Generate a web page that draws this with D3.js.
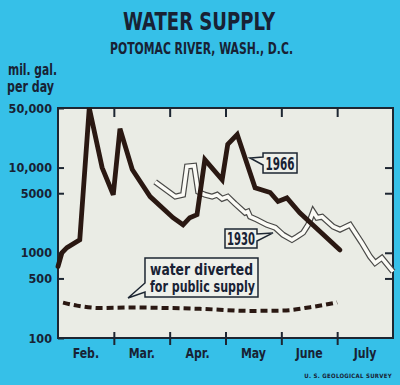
<!DOCTYPE html>
<meta charset="utf-8">
<style>
  body { margin: 0; background: #36c0e8; }
  text { font-family: "DejaVu Sans Condensed", sans-serif; font-weight: bold; fill: #182234; }
</style>
<body>
<script src="https://d3js.org/d3.v7.min.js"></script>
<script>
  // months counted from Feb 1 (0) to Aug 1 (6)
  const monthNames = ["Feb.", "Mar.", "Apr.", "May", "June", "July"];
  const yTicks = [100, 500, 1000, 5000, 10000, 50000];
  const rightTicks = [500, 1000, 5000, 10000];

  // 1966 flow, mil. gal. per day
  const m1966 = [0, 0.07, 0.16, 0.39, 0.56, 0.79, 0.99, 1.11, 1.33, 1.65, 2.06, 2.24, 2.36, 2.49, 2.63, 2.94, 3.04, 3.21, 3.53, 3.80, 3.94, 4.10, 4.33, 5.05];
  const v1966 = [690, 1000, 1150, 1420, 50000, 10000, 4800, 28500, 9500, 4560, 2580, 2130, 2580, 2800, 12400, 7200, 18700, 24400, 5800, 5100, 4000, 4400, 2950, 1080];

  // 1930 flow
  const m1930 = [1.74, 2.10, 2.24, 2.31, 2.44, 2.51, 2.63, 2.76, 2.85, 2.94, 3.04, 3.17, 3.35, 3.40, 3.44, 3.56, 3.74, 3.89, 4.03, 4.19, 4.28, 4.39, 4.48, 4.57, 4.64, 4.73, 4.93, 5.05, 5.23, 5.44, 5.59, 5.68, 5.80, 6.0];
  const v1930 = [6800, 4560, 4800, 10300, 10500, 5200, 4800, 4560, 4800, 4300, 4560, 3770, 2950, 3040, 2650, 2450, 2130, 1970, 1630, 1420, 1540, 1720, 2130, 3040, 2580, 2650, 2020, 1870, 2130, 1310, 900, 760, 870, 600];

  // water diverted for public supply
  const mDiv = [0.09, 0.34, 0.75, 1.34, 1.95, 2.54, 3.44, 4.03, 4.52, 5.0];
  const vDiv = [260, 240, 225, 228, 225, 220, 208, 210, 230, 262];

  const W = 400, H = 385;
  const pLeft = 58, pRight = 393, pTop = 108, pBottom = 338;

  const svg = d3.select("body").append("svg")
    .attr("width", W).attr("height", H);

  const x = d3.scaleLinear().domain([0, 6]).range([pLeft, pRight]);
  const y = d3.scaleLog().domain([100, 50000]).range([pBottom, pTop]);

  // text squeezed to a given width (the original lettering is very narrow)
  function label(px, py, str, size, len, anchor) {
    return svg.append("text").attr("x", px).attr("y", py)
      .attr("text-anchor", anchor || "start")
      .style("font-size", size + "px")
      .attr("textLength", len).attr("lengthAdjust", "spacingAndGlyphs")
      .text(str);
  }

  // titles
  label(199, 30, "WATER SUPPLY", 24.5, 152, "middle");
  label(201.5, 54, "POTOMAC RIVER, WASH., D.C.", 15, 183, "middle");
  label(8, 75, "mil. gal.", 15, 49);
  label(7, 92, "per day", 15, 47);

  // plot panel
  svg.append("rect").attr("x", pLeft).attr("y", pTop)
    .attr("width", pRight - pLeft).attr("height", pBottom - pTop)
    .attr("fill", "#eaece5").attr("stroke", "#1d2632").attr("stroke-width", 2);

  // left axis, ticks pointing in
  const yAxis = svg.append("g").attr("transform", `translate(${pLeft},0)`)
    .call(d3.axisLeft(y).tickValues(yTicks).tickSizeInner(-6).tickSizeOuter(0).tickPadding(6)
      .tickFormat(d => d >= 10000 ? d3.format(",")(d) : d));
  yAxis.select(".domain").remove();
  yAxis.selectAll("line").attr("stroke", "#1d2632").attr("stroke-width", 2);
  yAxis.selectAll("text").style("font-size", "12.5px").attr("fill", "#182234");

  // right axis
  const rAxis = svg.append("g").attr("transform", `translate(${pRight},0)`)
    .call(d3.axisRight(y).tickValues(rightTicks).tickSizeInner(-8).tickSizeOuter(0).tickFormat(""));
  rAxis.select(".domain").remove();
  rAxis.selectAll("line").attr("stroke", "#1d2632").attr("stroke-width", 2);

  // top axis
  const tAxis = svg.append("g").attr("transform", `translate(0,${pTop})`)
    .call(d3.axisTop(x).tickValues([1, 2, 3, 4, 5]).tickSizeInner(-9).tickSizeOuter(0).tickFormat(""));
  tAxis.select(".domain").remove();
  tAxis.selectAll("line").attr("stroke", "#1d2632").attr("stroke-width", 2);

  // bottom axis, ticks crossing the edge
  const bAxis = svg.append("g").attr("transform", `translate(0,${pBottom - 6})`)
    .call(d3.axisBottom(x).tickValues([1, 2, 3, 4, 5]).tickSizeInner(13).tickSizeOuter(0).tickFormat(""));
  bAxis.select(".domain").remove();
  bAxis.selectAll("line").attr("stroke", "#1d2632").attr("stroke-width", 2);

  svg.append("g").selectAll("text").data(monthNames).join("text")
    .attr("x", (d, i) => x(i + 0.5)).attr("y", 358)
    .attr("text-anchor", "middle").style("font-size", "14px")
    .text(d => d)
    .each(function () {
      d3.select(this).attr("textLength", this.getComputedTextLength() * 0.87)
        .attr("lengthAdjust", "spacingAndGlyphs");
    });

  const line = d3.line().x(d => x(d[0])).y(d => y(d[1]));
  const d1966 = d3.zip(m1966, v1966);
  const d1930 = d3.zip(m1930, v1930);
  const dDiv = d3.zip(mDiv, vDiv);

  // 1930: white band with dark outline
  svg.append("path").attr("d", line(d1930)).attr("fill", "none")
    .attr("stroke", "#4a4a48").attr("stroke-width", 6).attr("stroke-linejoin", "miter");
  svg.append("path").attr("d", line(d1930)).attr("fill", "none")
    .attr("stroke", "#fbfbf6").attr("stroke-width", 3.6).attr("stroke-linejoin", "miter");

  // 1966: heavy dark line
  svg.append("path").attr("d", line(d1966)).attr("fill", "none")
    .attr("stroke", "#2a1812").attr("stroke-width", 4.8).attr("stroke-linejoin", "miter")
    .attr("stroke-linecap", "round");

  // diverted: heavy dashes
  svg.append("path").attr("d", d3.line().curve(d3.curveMonotoneX).x(d => x(d[0])).y(d => y(d[1]))(dDiv))
    .attr("fill", "none").attr("stroke", "#2a1812").attr("stroke-width", 4)
    .attr("stroke-dasharray", "7,4");

  // callout labels: box corners and tail in data units
  function callout(x0, v0, x1, v1, tail) {
    const X0 = x(x0), Y0 = y(v0), X1 = x(x1), Y1 = y(v1);
    const p = tail.map(t => [x(t[0]), y(t[1])]);
    let path;
    if (tail.side === "left") {
      path = `M${X0},${Y0}H${X1}V${Y1}H${X0}V${p[2][1]}L${p[1][0]},${p[1][1]}L${X0},${p[0][1]}Z`;
    } else {
      path = `M${X0},${Y0}H${X1}V${p[0][1]}L${p[1][0]},${p[1][1]}L${X1},${p[2][1]}V${Y1}H${X0}Z`;
    }
    svg.append("path").attr("d", path).attr("fill", "#eef0ea")
      .attr("stroke", "#1d2632").attr("stroke-width", 1.5).attr("stroke-linejoin", "miter");
  }

  const t1966 = [[3.672, 13300], [3.44, 12970], [3.672, 10720]]; t1966.side = "left";
  callout(3.672, 14800, 4.281, 8640, t1966);
  label(x(3.977), 170, "1966", 17, 29, "middle");

  const t1930 = [[3.564, 1660], [3.851, 1710], [3.564, 1375]]; t1930.side = "right";
  callout(2.991, 1900, 3.564, 1140, t1930);
  label(x(3.278), 245, "1930", 17, 28, "middle");

  const tDiv = [[1.558, 442], [1.254, 295], [1.558, 347]]; tDiv.side = "left";
  callout(1.558, 869, 3.582, 303, tDiv);
  label(150, 275, "water diverted", 15.5, 103);
  label(150, 292, "for public supply", 15.5, 105);

  svg.append("text").attr("x", 392).attr("y", 378).attr("text-anchor", "end")
    .style("font-size", "6px").style("letter-spacing", "0.3px").text("U. S. GEOLOGICAL SURVEY");
</script>
</body>
